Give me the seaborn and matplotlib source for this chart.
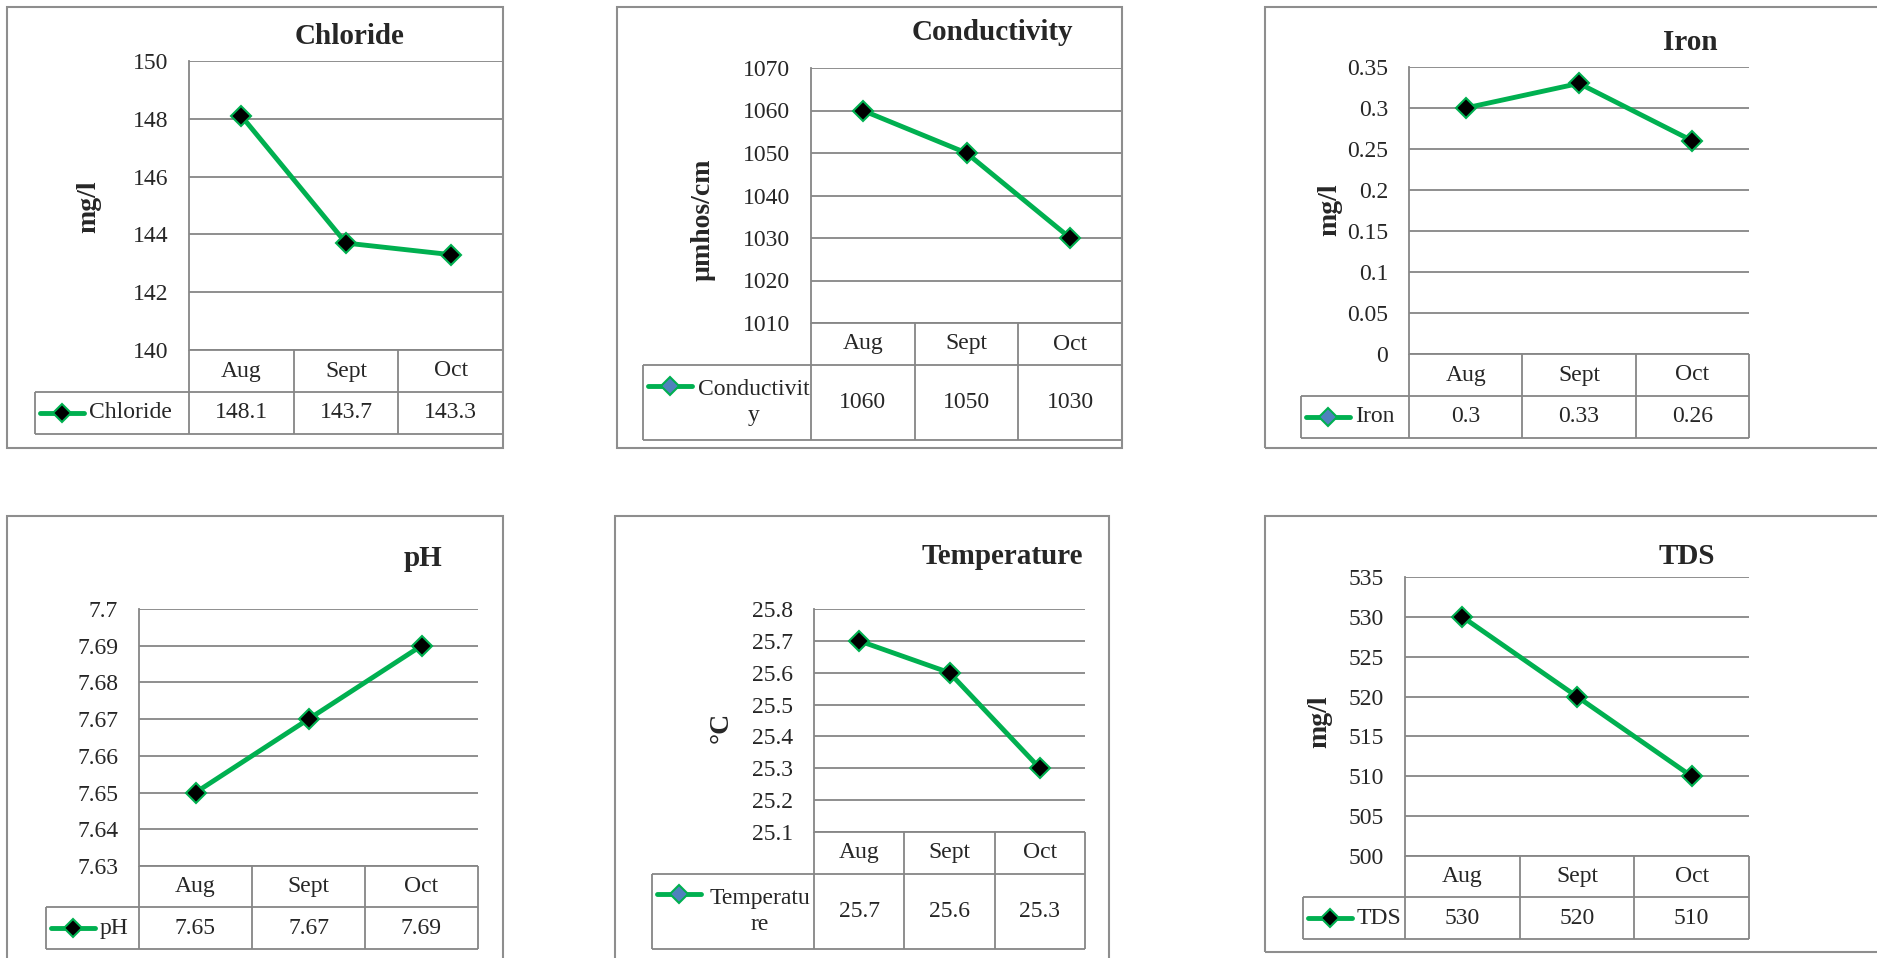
import numpy as np
import matplotlib.pyplot as plt
import seaborn as sns
from matplotlib.patches import Rectangle

# data
months = ['Aug', 'Sept', 'Oct']

chloride = [148.1, 143.7, 143.3]
conductivity = [1060, 1050, 1030]
iron = [0.3, 0.33, 0.26]
ph = [7.65, 7.67, 7.69]
temperature = [25.7, 25.6, 25.3]
tds = [530, 520, 510]

chloride_ticks = [140, 142, 144, 146, 148, 150]
conductivity_ticks = [1010, 1020, 1030, 1040, 1050, 1060, 1070]
iron_ticks = [0, 0.05, 0.1, 0.15, 0.2, 0.25, 0.3, 0.35]
ph_ticks = [7.63, 7.64, 7.65, 7.66, 7.67, 7.68, 7.69, 7.7]
temperature_ticks = [25.1, 25.2, 25.3, 25.4, 25.5, 25.6, 25.7, 25.8]
tds_ticks = [500, 505, 510, 515, 520, 525, 530, 535]

GREEN = '#00b050'
GRID = '#868686'
FRAME = '#8e8e8e'
BLUE = '#4f81bd'
FS = 17

sns.set_style('white')
plt.rcParams['font.family'] = ['Liberation Serif', 'DejaVu Serif']

W, H = 1877, 958
fig = plt.figure(figsize=(W / 100, H / 100), dpi=100)


def fx(x):
    return x / W


def fy(y):
    return 1 - y / H


# layout in pixels: frame, plot area, table rows, legend cell, title, y label
panels = [
    dict(name='Chloride', vals=chloride, ticks=chloride_ticks, unit='mg/l',
         leg='Chloride', face='black',
         frame=(7, 7, 503, 448), plot=(189, 61, 503, 350), cat_b=392, data_b=434,
         leg_l=35, title=(350, 37), ylab=(89, 207)),
    dict(name='Conductivity', vals=conductivity, ticks=conductivity_ticks, unit='µmhos/cm',
         leg='Conductivit\ny', face=BLUE,
         frame=(617, 7, 1122, 448), plot=(811, 68, 1122, 323), cat_b=365, data_b=440,
         leg_l=643, title=(992, 33), ylab=(703, 220)),
    dict(name='Iron', vals=iron, ticks=iron_ticks, unit='mg/l',
         leg='Iron', face=BLUE,
         frame=(1265, 7, 1895, 448), plot=(1409, 67, 1749, 354), cat_b=396, data_b=438,
         leg_l=1301, title=(1690, 43), ylab=(1330, 210)),
    dict(name='pH', vals=ph, ticks=ph_ticks, unit=None,
         leg='pH', face='black',
         frame=(7, 516, 503, 975), plot=(139, 609, 478, 866), cat_b=907, data_b=949,
         leg_l=46, title=(423, 558), ylab=None),
    dict(name='Temperature', vals=temperature, ticks=temperature_ticks, unit='°C',
         leg='Temperatu\nre', face=BLUE,
         frame=(615, 516, 1109, 975), plot=(814, 609, 1085, 832), cat_b=874, data_b=949,
         leg_l=652, title=(1002, 557), ylab=(721, 727)),
    dict(name='TDS', vals=tds, ticks=tds_ticks, unit='mg/l',
         leg='TDS', face='black',
         frame=(1265, 516, 1895, 952), plot=(1405, 577, 1749, 856), cat_b=897, data_b=939,
         leg_l=1303, title=(1687, 557), ylab=(1320, 722)),
]

for p in panels:
    # outer chart frame
    l, t, r, b = p['frame']
    fig.add_artist(Rectangle((fx(l), fy(b)), fx(r) - fx(l), fy(t) - fy(b),
                             transform=fig.transFigure, fill=False, ec=FRAME, lw=1.5))

    pl, pt, pr, pb = p['plot']
    ax = fig.add_axes([fx(pl), fy(pb), (pr - pl) / W, (pb - pt) / H])
    sns.lineplot(x=months, y=p['vals'], ax=ax, sort=False, color=GREEN, lw=3.5,
                 marker='D', ms=10, mfc='black', mec=GREEN, mew=1.5, zorder=3)
    ax.set_xlim(-0.5, 2.5)
    ax.set_ylim(p['ticks'][0], p['ticks'][-1])
    ax.set_yticks(p['ticks'])
    ax.set_yticklabels([f'{v:g}' for v in p['ticks']])
    ax.set_xticks([])
    ax.set_xlabel('')
    ax.set_ylabel('')
    ax.grid(axis='y', color=GRID, lw=1.3)
    ax.set_axisbelow(True)
    for s in ['top', 'right', 'bottom']:
        ax.spines[s].set_visible(False)
    ax.spines['left'].set_color(GRID)
    ax.spines['left'].set_linewidth(1.3)
    ax.tick_params(axis='y', length=0, pad=15, labelsize=FS)
    ax.patch.set_alpha(0)

    # data table under the plot, on the same category scale
    cat_b, data_b, leg_l = p['cat_b'], p['data_b'], p['leg_l']
    cw = (pr - pl) / 3

    def px2x(px):
        return -0.5 + (px - pl) / cw

    x_leg = px2x(leg_l)
    tax = fig.add_axes([fx(leg_l), fy(data_b), (pr - leg_l) / W, (data_b - pb) / H])
    tax.set_xlim(x_leg, 2.5)
    tax.set_ylim(data_b, pb)
    tax.axis('off')
    edges = np.arange(4) - 0.5
    kw = dict(color=GRID, lw=1.3, clip_on=False)
    tax.hlines(pb, -0.5, 2.5, **kw)
    tax.hlines([cat_b, data_b], x_leg, 2.5, **kw)
    tax.vlines(edges, pb, data_b, **kw)
    tax.vlines(x_leg, cat_b, data_b, **kw)

    cat_c = (pb + cat_b) / 2
    row_c = (cat_b + data_b) / 2
    for i, (m, v) in enumerate(zip(months, p['vals'])):
        tax.text(i, cat_c, m, ha='center', va='center', fontsize=FS)
        tax.text(i, row_c, f'{v:g}', ha='center', va='center', fontsize=FS)

    wrapped = '\n' in p['leg']
    ly = row_c - 17 if wrapped else row_c
    tax.plot([px2x(leg_l + 5), px2x(leg_l + 49)], [ly, ly], color=GREEN, lw=3.5,
             solid_capstyle='round', clip_on=False)
    tax.plot([px2x(leg_l + 27)], [ly], marker='D', ms=9, mfc=p['face'], mec=GREEN,
             mew=1.5, clip_on=False)
    if wrapped:
        tax.text(px2x((leg_l + 54 + pl) / 2), row_c, p['leg'], ha='center', va='center',
                 fontsize=FS, linespacing=1.35)
    else:
        tax.text(px2x(leg_l + 54), row_c, p['leg'], ha='left', va='center', fontsize=FS)

    tx, ty = p['title']
    fig.text(fx(tx), fy(ty), p['name'], ha='center', va='center', fontsize=21,
             fontweight='bold')
    if p['unit']:
        yx, yy = p['ylab']
        fig.text(fx(yx), fy(yy), p['unit'], rotation=90, ha='center', va='center',
                 fontsize=20, fontweight='bold')

fig.savefig('out.png', dpi=100)
